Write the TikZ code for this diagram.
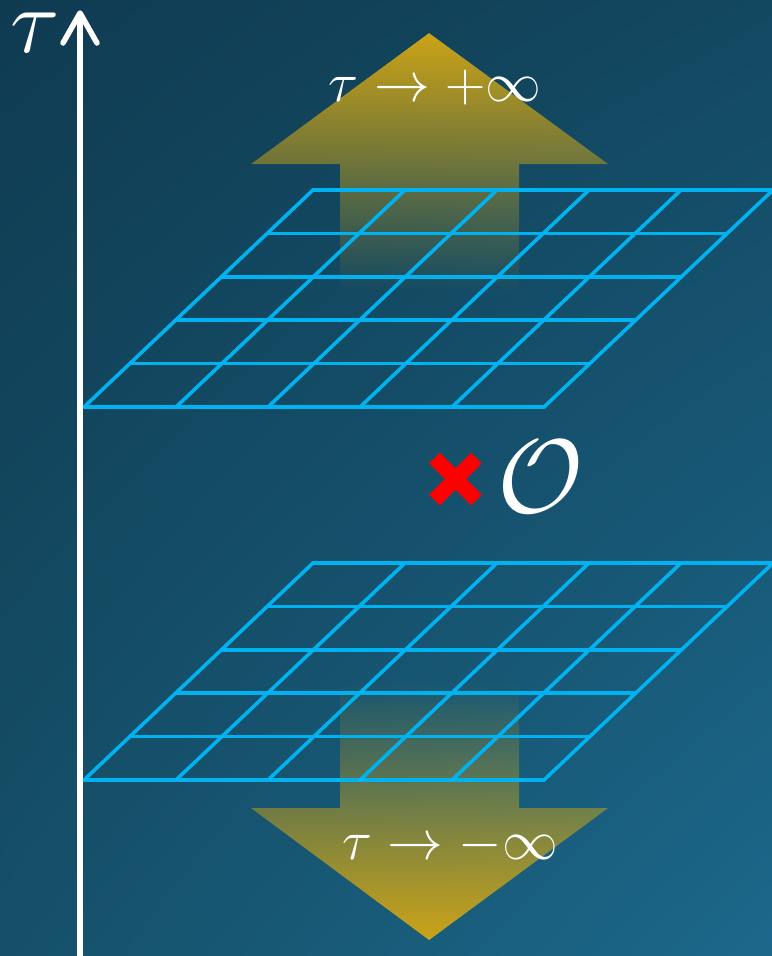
\documentclass[tikz,border=0pt]{standalone}
\usepackage{fix-cm}
\usetikzlibrary{fadings,shadings}
\definecolor{bgul}{HTML}{0F3B51}
\definecolor{bgur}{HTML}{134861}
\definecolor{bgll}{HTML}{155069}
\definecolor{bglr}{HTML}{1C688C}
\definecolor{gold}{HTML}{CCA417}
\definecolor{gridc}{HTML}{00B2F0}
\tikzfading[name=fadetop, top color=transparent!0, bottom color=transparent!100]
\tikzfading[name=fadebot, top color=transparent!100, bottom color=transparent!0]
\tikzset{
  gridline/.style={draw=gridc, line width=3.6bp, line cap=round},
  axisline/.style={draw=white, line width=5.5bp},
  biglabel/.style={text=white, font=\fontsize{56}{64}\selectfont, inner sep=0pt},
}
\begin{document}
\begin{tikzpicture}[x=1bp,y=-1bp]
\useasboundingbox (0,0) rectangle (772,956);
% background
\shade[upper left=bgul, upper right=bgur, lower left=bgll, lower right=bglr] (0,0) rectangle (772,956);
% yellow arrows
\fill[gold, path fading=fadetop] (429,33) -- (608,164) -- (519,164) -- (519,292) -- (340,292) -- (340,164) -- (251,164) -- cycle;
\fill[gold, path fading=fadebot] (429,940) -- (608,808) -- (519,808) -- (519,680) -- (340,680) -- (340,808) -- (251,808) -- cycle;
% grids
\foreach \yb in {407,780}{
  \foreach \i in {0,...,5}{
    \draw[gridline] (84+45.8*\i,\yb-43.4*\i) -- (544+45.8*\i,\yb-43.4*\i);
  }
  \foreach \j in {0,...,5}{
    \draw[gridline] (84+92*\j,\yb) -- (313+92*\j,\yb-217);
  }
}
% axis
\coordinate (abot) at (80,956);
\coordinate (atop) at (80,14);
\draw[axisline] (abot) -- (atop);
\draw[axisline, line cap=round, line join=round] (63,43) -- (80,13) -- (97,43);
\node[text=white, font=\fontsize{92}{104}\selectfont, inner sep=0pt] (taulab) at (35,33) {$\tau$};
% labels
\node[biglabel] (plus) at (435,88) {$\tau\to+\infty$};
\node[biglabel] (minus) at (450,846) {$\tau\to-\infty$};
% operator
\draw[red, line width=15bp] (434.5,458) -- (476.5,500);
\draw[red, line width=15bp] (476.5,458) -- (434.5,500);
\node[text=white, font=\fontsize{105}{120}\selectfont, inner sep=0pt] (op) at (541,477) {$\mathcal{O}$};
\end{tikzpicture}
\end{document}
